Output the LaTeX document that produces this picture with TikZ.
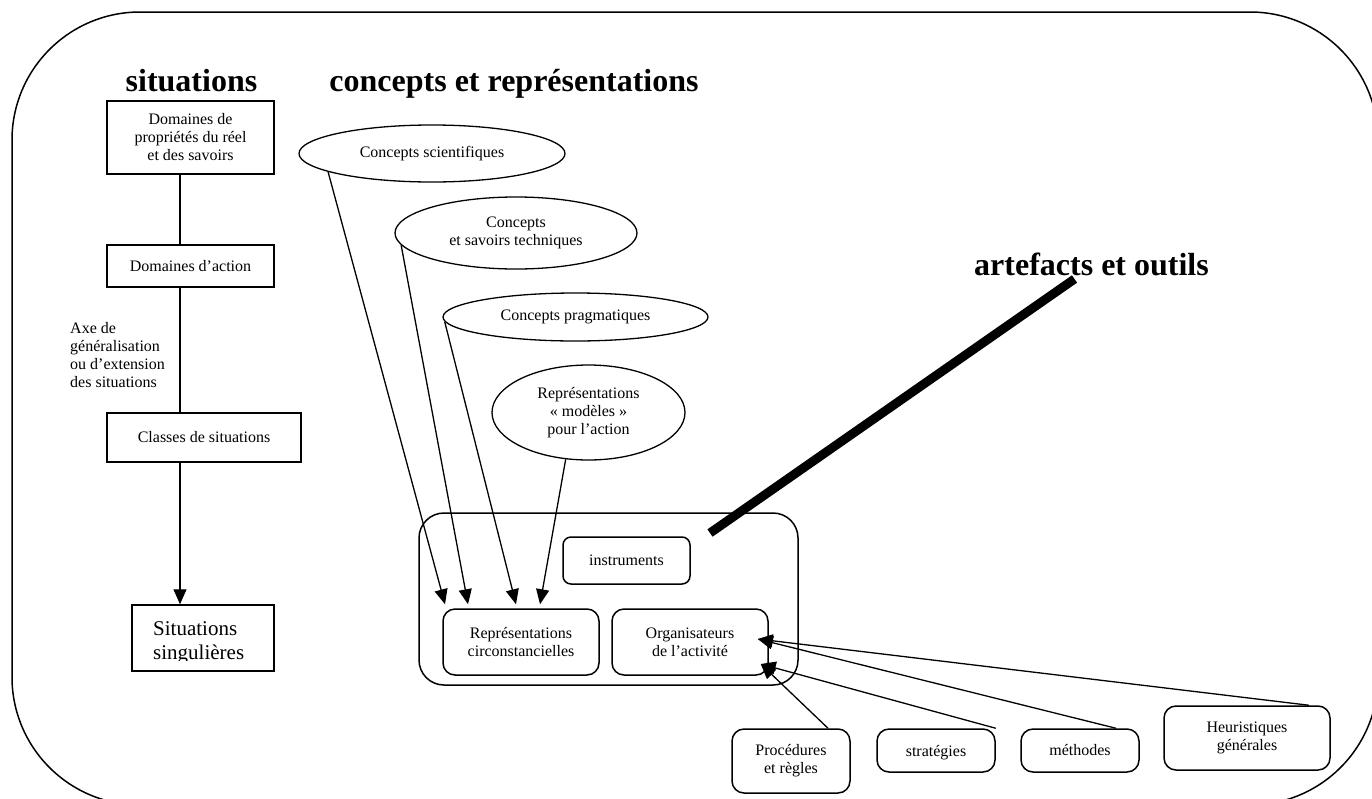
\documentclass[tikz,border=0pt]{standalone}
\usepackage{fontspec}
\setmainfont{Liberation Serif}
\usetikzlibrary{shapes.geometric,arrows.meta}

\tikzset{
    lbl/.style={font=\fontsize{16}{18}\selectfont, align=center},
    titre/.style={font=\fontsize{32}{36}\selectfont\bfseries, inner sep=0pt},
    carre/.style={draw, line width=1.5pt, inner sep=0pt, lbl},
    ovale/.style={ellipse, draw, line width=1.3pt, inner sep=0pt, lbl},
    arrondi/.style={draw, rounded corners=12pt, line width=1.5pt, inner sep=0pt, lbl},
    fleche/.style={line width=1.3pt, -{Triangle[length=15pt,width=13pt]}},
    trait/.style={line width=1.5pt}
}

\begin{document}
\begin{tikzpicture}[x=1pt,y=-1pt]
    \useasboundingbox (0,0) rectangle (1372,798);
    \begin{scope}
        \clip (0,0) rectangle (1372,798);
        \draw[line width=1.5pt, rounded corners=128pt] (12,12) rectangle (1378,805);
    \end{scope}

    \node[titre, anchor=base] (tsit) at (191.5,91) {situations};
    \node[titre, anchor=base] (tcon) at (514,91) {concepts et représentations};
    \node[titre, anchor=base] (tart) at (1091.5,275) {artefacts et outils};

    \node[carre, minimum width=167pt, minimum height=73pt] (dom) at (190.5,137.5) {Domaines de\\propriétés du réel\\et des savoirs};
    \node[carre, minimum width=167pt, minimum height=42pt] (act) at (190.5,266) {Domaines d’action};
    \node[carre, minimum width=194pt, minimum height=49pt] (cls) at (204,437.5) {Classes de situations};
    \node[carre, minimum width=142pt, minimum height=66pt] (sing) at (203,638) {};
    \begin{scope}
        \clip (sing.north west) rectangle ([yshift=11pt]sing.south east);
        \node[anchor=north west, inner sep=0pt, align=left, font=\fontsize{21}{24}\selectfont] (tsing) at (153,621) {Situations\\singulières};
    \end{scope}
    \node[lbl, align=left, anchor=north west, inner sep=0pt] (axe lbl) at (70,322) {Axe de\\généralisation\\ou d’extension\\des situations};

    \coordinate (axe) at (180,0);
    \draw[trait] (dom.south -| axe) -- (act.north -| axe);
    \draw[trait] (act.south -| axe) -- (cls.north -| axe);
    \draw[fleche] (cls.south -| axe) -- (sing.north -| axe);

    \node[ovale, minimum width=266pt, minimum height=57pt] (sci) at (432,153.5) {Concepts scientifiques};
    \node[ovale, minimum width=242pt, minimum height=72pt] (tech) at (516,233) {Concepts\\et savoirs techniques};
    \node[ovale, minimum width=265pt, minimum height=48pt] (prag) at (575.5,317) {Concepts pragmatiques};
    \node[ovale, minimum width=193pt, minimum height=95pt] (mod) at (588.5,412.5) {Représentations\\« modèles »\\pour l’action};

    \node[draw, line width=1.5pt, rounded corners=25pt, minimum width=379pt, minimum height=172pt] (grp) at (608.5,599) {};
    \node[arrondi, rounded corners=8pt, minimum width=127pt, minimum height=47pt] (inst) at (626.5,560.5) {instruments};
    \node[arrondi, minimum width=156pt, minimum height=66pt] (rc) at (521,642) {Représentations\\circonstancielles};
    \node[arrondi, minimum width=156pt, minimum height=66pt] (org) at (690,642) {Organisateurs\\de l’activité};

    \draw[fleche] (sci.190) -- ([shift={(-76pt,4pt)}]rc.north);
    \draw[fleche] (tech.186) -- ([shift={(-53pt,4pt)}]rc.north);
    \draw[fleche] (prag.182) -- ([shift={(-5pt,4pt)}]rc.north);
    \draw[fleche] (mod.244) -- ([shift={(19pt,4pt)}]rc.north);

    \coordinate (lien) at (710,533);
    \draw[line width=9pt] (lien) -- ([shift={(-17pt,-4pt)}]tart.base);

    \node[arrondi, minimum width=118pt, minimum height=64pt] (proc) at (791,761) {Procédures\\et règles};
    \node[arrondi, minimum width=118pt, minimum height=43pt] (strat) at (936,750.5) {\raisebox{0pt}[\height][0pt]{stratégies}};
    \node[arrondi, minimum width=118pt, minimum height=43pt] (meth) at (1080,750.5) {méthodes};
    \node[arrondi, minimum width=166pt, minimum height=64pt] (heur) at (1247,738) {Heuristiques\\générales};

    \draw[fleche] ([xshift=62pt]heur.north) -- ([shift={(-11pt,3pt)}]org.east);
    \draw[fleche] ([xshift=36pt]meth.north) -- ([shift={(-11pt,3pt)}]org.east);
    \draw[fleche] (strat.north east) -- ([shift={(-8pt,-22pt)}]org.east);
    \draw[fleche] ([xshift=37pt]proc.north) -- ([shift={(-8pt,-22pt)}]org.east);
\end{tikzpicture}
\end{document}
